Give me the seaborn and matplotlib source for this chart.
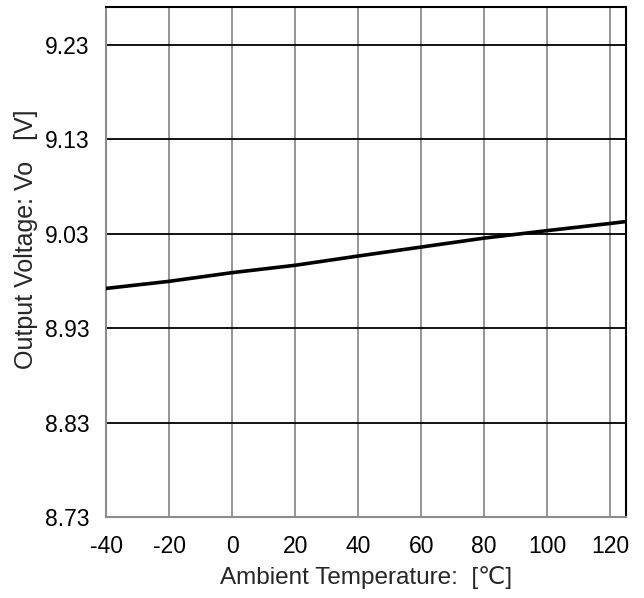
import numpy as np
import pandas as pd
import matplotlib
matplotlib.use("Agg")
import matplotlib.pyplot as plt
import seaborn as sns

# Werte
temperature = [-40, -20, 0, 20, 40, 60, 80, 100, 120, 125]
voltage = [8.972, 8.9795, 8.9887, 8.9965, 9.0063, 9.0158, 9.0253, 9.0332, 9.0408, 9.0428]
x_ticks = [-40, -20, 0, 20, 40, 60, 80, 100, 120]
x_tick_labels = ["-40", "-20", "0", "20", "40", "60", "80", "100", "120"]
y_ticks = [8.73, 8.83, 8.93, 9.03, 9.13, 9.23]
y_tick_labels = ["8.73", "8.83", "8.93", "9.03", "9.13", "9.23"]

sns.set_style("white")
plt.rcParams['font.family'] = ['Liberation Sans', 'DejaVu Sans']

df = pd.DataFrame({"Temp": temperature, "Vo": voltage})

fig = plt.figure(figsize=(6.44, 5.98), dpi=100)
ax = fig.add_axes([0.1646, 0.1355, 0.8074, 0.8528])

# Gitter: vertikal grau, horizontal schwarz
for xv in x_ticks:
    ax.axvline(xv, color="#8c8c8c", lw=1.3, zorder=1)
for yv in y_ticks:
    ax.axhline(yv, color="black", lw=1.3, zorder=1)

sns.lineplot(data=df, x="Temp", y="Vo", color="black", lw=2.6, ax=ax, zorder=3)

ax.set_xlim(-40, 125)
ax.set_ylim(8.73, 9.27)
ax.set_xticks(x_ticks)
ax.set_xticklabels(x_tick_labels)
ax.set_yticks(y_ticks)
ax.set_yticklabels(y_tick_labels)
ax.tick_params(axis="both", length=0, labelsize=16.5, colors="black")
ax.tick_params(axis="x", pad=13)
ax.tick_params(axis="y", pad=12)

ax.set_xlabel("Ambient Temperature:  [\u2103]", fontsize=17.5, labelpad=6)
ax.set_ylabel("Output Voltage: Vo   [V]", fontsize=18)
ax.yaxis.set_label_coords(-0.13, 0.545)

for side in ["left", "bottom"]:
    ax.spines[side].set_color("#8c8c8c")
    ax.spines[side].set_linewidth(1.5)
for side in ["top", "right"]:
    ax.spines[side].set_color("black")
    ax.spines[side].set_linewidth(1.5)

fig.savefig("out.png", dpi=100)
